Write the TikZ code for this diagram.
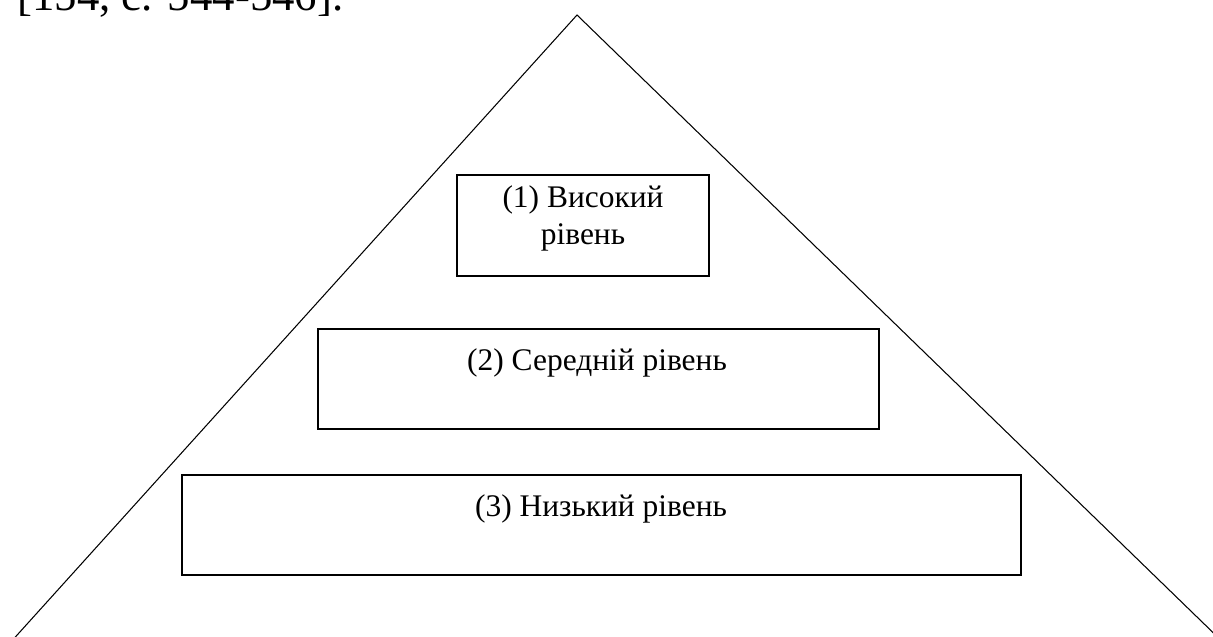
\documentclass[tikz,border=0pt]{standalone}
\usepackage{fontspec}
\setmainfont{Liberation Serif}
\usetikzlibrary{positioning}
\tikzset{
  lvlbox/.style={draw=black, line width=1.1pt, inner sep=0pt},
  lvltext/.style={inner sep=0pt, align=center, font=\fontsize{17.9}{21}\selectfont},
  side/.style={black, line width=0.6pt}
}
\begin{document}
\begin{tikzpicture}[x=0.02cm, y=-0.02cm]
  \useasboundingbox (0,0) rectangle (1213,636);
  \clip (0,0) rectangle (1213,636);
  % source line, cut by the page edge
  \node[anchor=base west, inner sep=0pt, font=\fontsize{25.5}{30}\selectfont] (src) at (17,10) {[154, с. 544-546].};
  % pyramid
  \coordinate (apex) at (577,15);
  \coordinate (bl) at (3.6,650);
  \coordinate (br) at (1231,650);
  \draw[side] (bl) -- (apex) -- (br);
  % levels
  \node[lvlbox, minimum width=5.04cm, minimum height=2.02cm] (b1) at (583,225.5) {};
  \node[lvlbox, minimum width=11.22cm, minimum height=2cm] (b2) at (598.5,379) {};
  \node[lvlbox, minimum width=16.78cm, minimum height=2cm] (b3) at (601.5,525) {};
  \node[lvltext, anchor=base] (t1) at (583,244) {(1) Високий\\рівень};
  \node[lvltext, anchor=base] (t2) at (597,370) {(2) Середній рівень};
  \node[lvltext, anchor=base] (t3) at (601,516) {(3) Низький рівень};
\end{tikzpicture}
\end{document}
